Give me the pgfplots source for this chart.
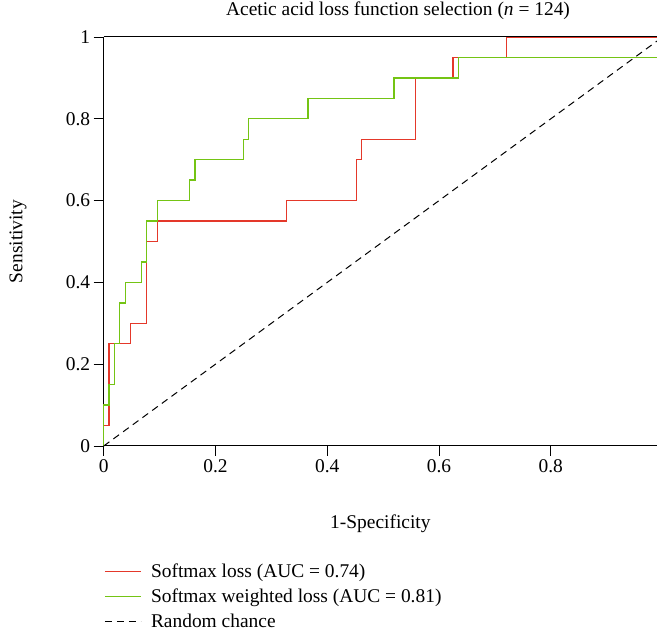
\documentclass[border=0pt]{standalone}
\usepackage{fontspec}
\setmainfont{Liberation Serif}
\usepackage{pgfplots}
\pgfplotsset{compat=1.18}
\definecolor{rocred}{HTML}{E4382A}
\definecolor{rocgreen}{HTML}{74C414}
\newcommand{\ff}{\fontsize{19.5}{23}\selectfont}
\begin{document}
\begin{tikzpicture}[x=1bp,y=1bp,font=\ff]
\useasboundingbox (0,0) rectangle (657,637);
\begin{axis}[
  at={(103.7bp,191bp)}, anchor=south west,
  width=553.3bp, height=409bp, scale only axis,
  xmin=0, xmax=0.99, ymin=0, ymax=1,
  axis x line=bottom, axis y line=left,
  axis line style={-, line width=1bp, black},
  xtick={0,0.2,0.4,0.6,0.8}, ytick={0,0.2,0.4,0.6,0.8,1},
  tick align=outside, major tick length=10bp,
  tick style={black, line width=0.8bp},
  minor tick num=0,
  tick label style={font=\ff},
  label style={font=\ff},
  /pgf/number format/assume math mode=true,
  xlabel={1-Specificity}, ylabel={Sensitivity},
  x label style={at={(axis description cs:0.5,-0.19)}, anchor=center},
  y label style={at={(axis description cs:-0.155,0.5)}, anchor=center},
  title={Acetic acid loss function selection (\textit{n} = 124)},
  title style={at={(axis description cs:0.532,1.049)}, anchor=center, font=\ff},
  clip=false,
  legend style={draw=none, fill=none, at={(axis description cs:-0.005,-0.28)}, anchor=north west,
    cells={anchor=west}, font=\ff, row sep=6.5bp, column sep=8bp, nodes={inner sep=1.5bp}},
  legend image code/.code={\draw[#1] (0bp,0bp) -- (36bp,0bp);},
]
\addplot[color=rocred, line width=1.4bp] coordinates {
(0,0) (0,0.05) (0.0096,0.05) (0.0096,0.25) (0.0481,0.25) (0.0481,0.30) (0.0769,0.30) (0.0769,0.50) (0.0962,0.50) (0.0962,0.55) (0.3269,0.55) (0.3269,0.60) (0.4519,0.60) (0.4519,0.70) (0.4615,0.70) (0.4615,0.75) (0.5577,0.75) (0.5577,0.90) (0.625,0.90) (0.625,0.95) (0.7212,0.95) (0.7212,1) (0.99,1)
};
\addlegendentry{Softmax loss (AUC = 0.74)}
\addplot[color=rocgreen, line width=1.4bp] coordinates {
(0,0) (0,0.10) (0.0096,0.10) (0.0096,0.15) (0.0192,0.15) (0.0192,0.25) (0.0288,0.25) (0.0288,0.35) (0.0385,0.35) (0.0385,0.40) (0.0673,0.40) (0.0673,0.45) (0.0769,0.45) (0.0769,0.55) (0.0962,0.55) (0.0962,0.60) (0.1538,0.60) (0.1538,0.65) (0.1635,0.65) (0.1635,0.70) (0.25,0.70) (0.25,0.75) (0.2596,0.75) (0.2596,0.80) (0.3654,0.80) (0.3654,0.85) (0.5192,0.85) (0.5192,0.90) (0.6346,0.90) (0.6346,0.95) (0.99,0.95)
};
\addlegendentry{Softmax weighted loss (AUC = 0.81)}
\addplot[black, line width=1bp, dash pattern=on 7bp off 5bp] coordinates {(0,0) (0.99,0.99)};
\addlegendentry{Random chance}
\draw[line width=1bp, black] (rel axis cs:0,1) -- (rel axis cs:1,1);
\end{axis}
\end{tikzpicture}
\end{document}
